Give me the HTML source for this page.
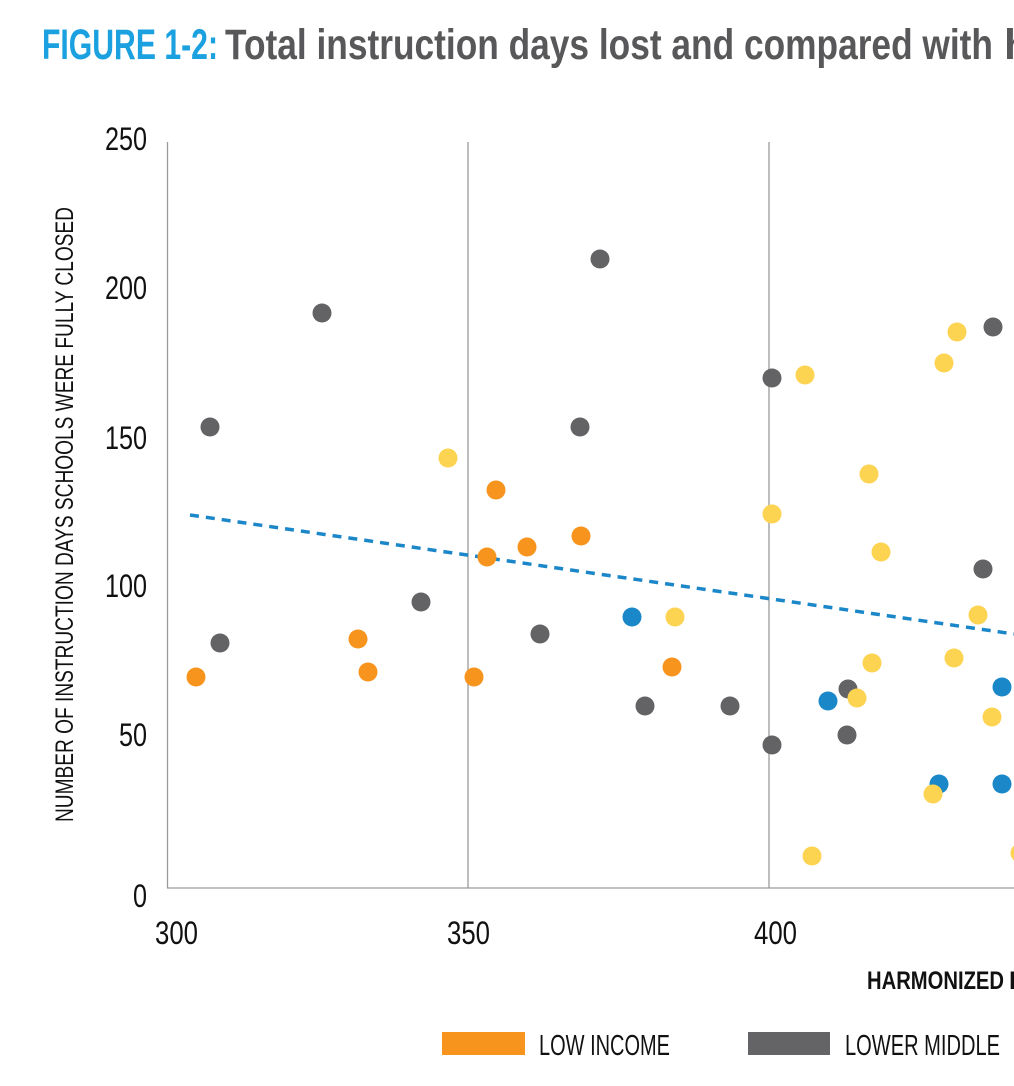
<!DOCTYPE html>
<html><head><meta charset="utf-8"><style>
html,body{margin:0;padding:0;background:#fff;width:1014px;height:1086px;overflow:hidden}
svg{display:block}
text{font-family:"Liberation Sans",sans-serif}
</style></head><body>
<svg width="1014" height="1086" viewBox="0 0 1014 1086">
<text x="42" y="59" font-size="43" font-weight="bold" fill="#1ba1e0" textLength="176" lengthAdjust="spacingAndGlyphs">FIGURE 1-2:</text>
<text x="225" y="59" font-size="43" font-weight="bold" fill="#58585a" textLength="768" lengthAdjust="spacingAndGlyphs">Total instruction days lost and compared with</text>
<text x="1004" y="59" font-size="43" font-weight="bold" fill="#58585a">h</text>

<g stroke="#9a9a9a" stroke-width="1.3" fill="none">
<line x1="167.5" y1="142" x2="167.5" y2="888"/>
<line x1="468" y1="142" x2="468" y2="888"/>
<line x1="769" y1="142" x2="769" y2="888"/>
<line x1="167" y1="888" x2="1014" y2="888"/>
</g>

<g font-size="32" fill="#111" text-anchor="end">
<text x="147" y="150" textLength="42" lengthAdjust="spacingAndGlyphs">250</text>
<text x="147" y="299" textLength="42" lengthAdjust="spacingAndGlyphs">200</text>
<text x="147" y="449" textLength="42" lengthAdjust="spacingAndGlyphs">150</text>
<text x="147" y="597" textLength="42" lengthAdjust="spacingAndGlyphs">100</text>
<text x="147" y="746" textLength="28" lengthAdjust="spacingAndGlyphs">50</text>
<text x="147" y="907" textLength="14" lengthAdjust="spacingAndGlyphs">0</text>
</g>
<g font-size="32" fill="#111">
<text x="155" y="944" textLength="43" lengthAdjust="spacingAndGlyphs">300</text>
<text x="447" y="944" textLength="43" lengthAdjust="spacingAndGlyphs">350</text>
<text x="754" y="944" textLength="43" lengthAdjust="spacingAndGlyphs">400</text>
</g>
<text transform="translate(73,822) rotate(-90)" font-size="25" fill="#111" textLength="615" lengthAdjust="spacingAndGlyphs">NUMBER OF INSTRUCTION DAYS SCHOOLS WERE FULLY CLOSED</text>
<text x="867" y="989" font-size="25" font-weight="bold" fill="#111" textLength="137" lengthAdjust="spacingAndGlyphs">HARMONIZED</text>
<text x="1009" y="989" font-size="25" font-weight="bold" fill="#111">L</text>

<line x1="190" y1="515" x2="1014" y2="634" stroke="#1b87c9" stroke-width="3.5" stroke-dasharray="9,7"/>

<g fill="#f7941d">
<circle cx="196" cy="677" r="9.5"/><circle cx="358" cy="639" r="9.5"/><circle cx="368" cy="672" r="9.5"/>
<circle cx="474" cy="677" r="9.5"/><circle cx="487" cy="557" r="9.5"/><circle cx="496" cy="490" r="9.5"/>
<circle cx="527" cy="547" r="9.5"/><circle cx="581" cy="536" r="9.5"/><circle cx="672" cy="667" r="9.5"/>
</g>
<g fill="#636365">
<circle cx="210" cy="427" r="9.5"/><circle cx="220" cy="643" r="9.5"/><circle cx="322" cy="313" r="9.5"/>
<circle cx="421" cy="602" r="9.5"/><circle cx="540" cy="634" r="9.5"/><circle cx="580" cy="427" r="9.5"/>
<circle cx="600" cy="259" r="9.5"/><circle cx="645" cy="706" r="9.5"/><circle cx="730" cy="706" r="9.5"/>
<circle cx="772" cy="378" r="9.5"/><circle cx="772" cy="745" r="9.5"/><circle cx="848" cy="689" r="9.5"/>
<circle cx="847" cy="735" r="9.5"/><circle cx="983" cy="569" r="9.5"/><circle cx="993" cy="327" r="9.5"/>
</g>
<g fill="#1a87c9">
<circle cx="632" cy="617" r="9.5"/><circle cx="828" cy="701" r="9.5"/><circle cx="939" cy="784" r="9.5"/>
<circle cx="1002" cy="687" r="9.5"/><circle cx="1002" cy="784" r="9.5"/>
</g>
<g fill="#fdd352">
<circle cx="448" cy="458" r="9.5"/><circle cx="675" cy="617" r="9.5"/><circle cx="772" cy="514" r="9.5"/>
<circle cx="805" cy="375" r="9.5"/><circle cx="812" cy="856" r="9.5"/><circle cx="857" cy="698" r="9.5"/>
<circle cx="869" cy="474" r="9.5"/><circle cx="872" cy="663" r="9.5"/><circle cx="881" cy="552" r="9.5"/>
<circle cx="933" cy="794" r="9.5"/><circle cx="944" cy="363" r="9.5"/><circle cx="954" cy="658" r="9.5"/>
<circle cx="957" cy="332" r="9.5"/><circle cx="978" cy="615" r="9.5"/><circle cx="992" cy="717" r="9.5"/>
<circle cx="1020" cy="853" r="9.5"/>
</g>

<rect x="442" y="1032" width="83" height="23" fill="#f7941d"/>
<text x="539" y="1055" font-size="29" fill="#111" textLength="131" lengthAdjust="spacingAndGlyphs">LOW INCOME</text>
<rect x="748" y="1032" width="82" height="23" fill="#646466"/>
<text x="845" y="1055" font-size="29" fill="#111" textLength="155" lengthAdjust="spacingAndGlyphs">LOWER MIDDLE</text>
</svg>
</body></html>
